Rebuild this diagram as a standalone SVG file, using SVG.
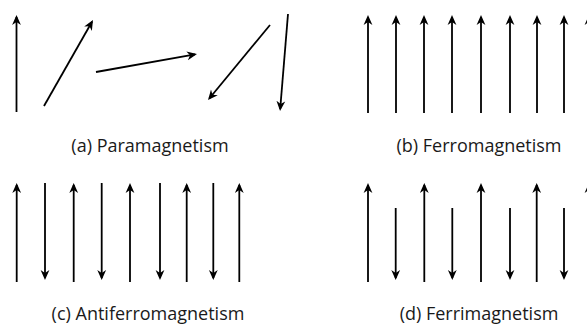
<svg xmlns="http://www.w3.org/2000/svg" width="587" height="327" viewBox="0 0 587 327">
<style>
.ar{stroke:#000;stroke-width:1.8;fill:none;marker-end:url(#ah)}
.lbl{font-family:"Open Sans","Liberation Sans",sans-serif;font-size:18px;fill:#1a1a1a;text-anchor:middle}
</style>
<defs>
<marker id="ah" viewBox="0 0 10 10" refX="8" refY="5" markerWidth="10" markerHeight="10" markerUnits="userSpaceOnUse" orient="auto">
<path d="M0,0.6 L10,5 L0,9.4 L3,5 Z" fill="#000"/>
</marker>
</defs>
<rect width="587" height="327" fill="#fff"/>
<g id="panel-a">
<line class="ar" x1="16.5" y1="112" x2="16.5" y2="17"/>
<line class="ar" x1="44" y1="106" x2="92" y2="21.8"/>
<line class="ar" x1="96" y1="72" x2="195" y2="54.4"/>
<line class="ar" x1="270" y1="25" x2="209.3" y2="98.5"/>
<line class="ar" x1="288" y1="14" x2="280.2" y2="109"/>
<text class="lbl" x="150" y="152">(a) Paramagnetism</text>
</g>
<g id="panel-b">
<line class="ar" x1="368" y1="113" x2="368" y2="17"/>
<line class="ar" x1="396" y1="113" x2="396" y2="17"/>
<line class="ar" x1="424" y1="113" x2="424" y2="17"/>
<line class="ar" x1="452" y1="113" x2="452" y2="17"/>
<line class="ar" x1="481" y1="113" x2="481" y2="17"/>
<line class="ar" x1="510" y1="113" x2="510" y2="17"/>
<line class="ar" x1="537" y1="113" x2="537" y2="17"/>
<line class="ar" x1="564" y1="113" x2="564" y2="17"/>
<line class="ar" x1="589" y1="113" x2="589" y2="17"/>
<text class="lbl" x="479" y="152">(b) Ferromagnetism</text>
</g>
<g id="panel-c">
<line class="ar" x1="16.7" y1="282" x2="16.7" y2="185"/>
<line class="ar" x1="45" y1="183" x2="45" y2="278"/>
<line class="ar" x1="73.7" y1="282" x2="73.7" y2="185"/>
<line class="ar" x1="101.7" y1="183" x2="101.7" y2="278"/>
<line class="ar" x1="130" y1="282" x2="130" y2="185"/>
<line class="ar" x1="160" y1="183" x2="160" y2="278"/>
<line class="ar" x1="186.7" y1="282" x2="186.7" y2="185"/>
<line class="ar" x1="213.3" y1="183" x2="213.3" y2="278"/>
<line class="ar" x1="239.3" y1="282" x2="239.3" y2="185"/>
<text class="lbl" x="148" y="320">(c) Antiferromagnetism</text>
</g>
<g id="panel-d">
<line class="ar" x1="368" y1="282" x2="368" y2="185"/>
<line class="ar" x1="395.7" y1="208" x2="395.7" y2="278"/>
<line class="ar" x1="424.3" y1="282" x2="424.3" y2="185"/>
<line class="ar" x1="452.3" y1="208" x2="452.3" y2="278"/>
<line class="ar" x1="481" y1="282" x2="481" y2="185"/>
<line class="ar" x1="510" y1="208" x2="510" y2="278"/>
<line class="ar" x1="536.7" y1="282" x2="536.7" y2="185"/>
<line class="ar" x1="564" y1="208" x2="564" y2="278"/>
<line class="ar" x1="589" y1="282" x2="589" y2="185"/>
<text class="lbl" x="479" y="320">(d) Ferrimagnetism</text>
</g>
</svg>
